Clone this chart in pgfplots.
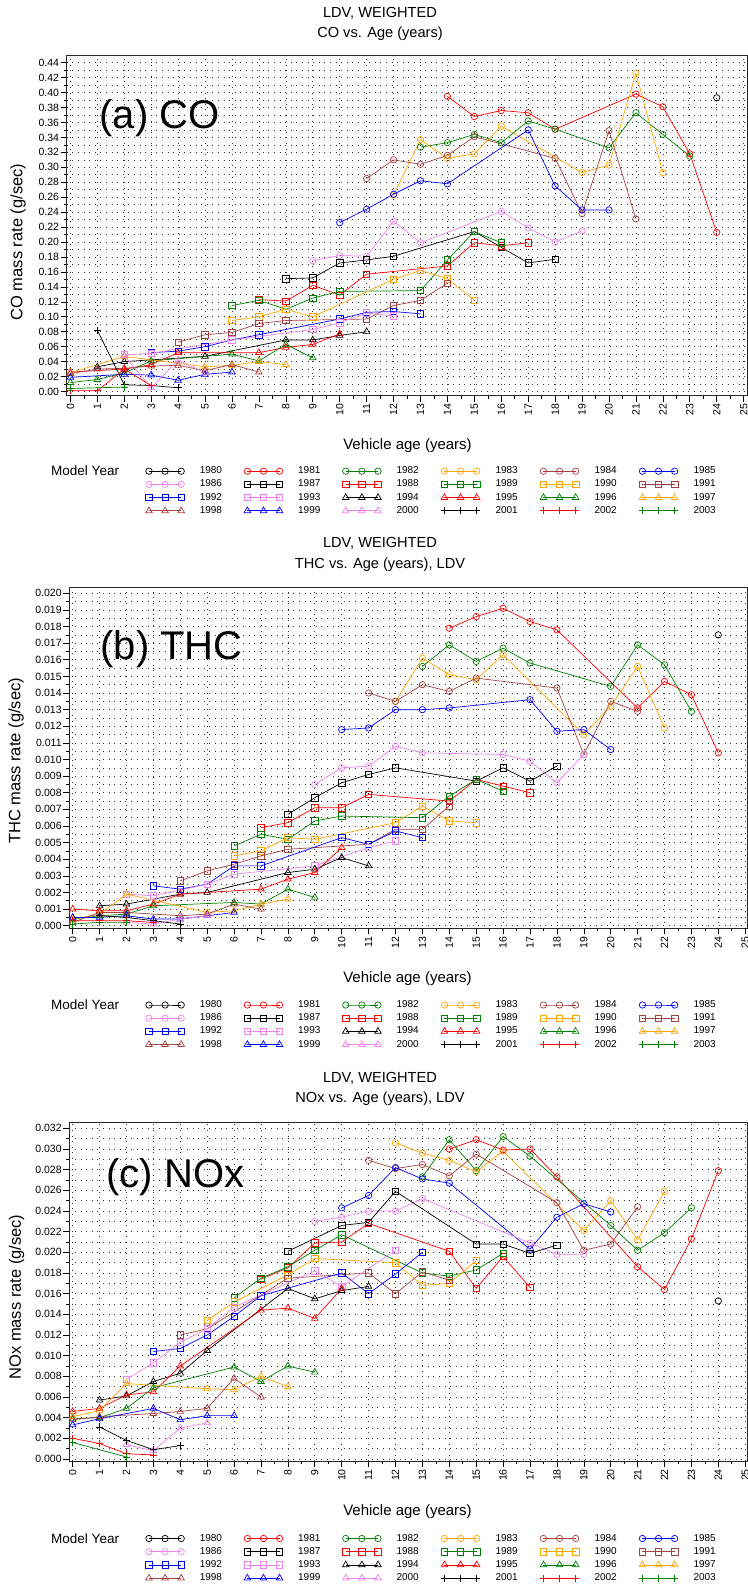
\documentclass[border=0pt]{standalone}
\usepackage{fontspec}
\setmainfont{Liberation Sans}
\usepackage{pgfplots}
\pgfplotsset{compat=1.18}

\definecolor{cred}{RGB}{255,0,0}
\definecolor{cgreen}{RGB}{0,128,0}
\definecolor{corange}{RGB}{255,165,0}
\definecolor{cbrown}{RGB}{165,65,65}
\definecolor{cblue}{RGB}{0,0,255}
\definecolor{cviolet}{RGB}{238,130,238}
\newcommand\fs[1]{\fontsize{#1bp}{#1bp}\selectfont}

\pgfplotsset{
  s1980/.style={black,mark=o},
  s1981/.style={cred,mark=o},
  s1982/.style={cgreen,mark=o},
  s1983/.style={corange,mark=o},
  s1984/.style={cbrown,mark=o},
  s1985/.style={cblue,mark=o},
  s1986/.style={cviolet,mark=o},
  s1987/.style={black,mark=square},
  s1988/.style={cred,mark=square},
  s1989/.style={cgreen,mark=square},
  s1990/.style={corange,mark=square},
  s1991/.style={cbrown,mark=square},
  s1992/.style={cblue,mark=square},
  s1993/.style={cviolet,mark=square},
  s1994/.style={black,mark=triangle,mark size=3.8bp},
  s1995/.style={cred,mark=triangle,mark size=3.8bp},
  s1996/.style={cgreen,mark=triangle,mark size=3.8bp},
  s1997/.style={corange,mark=triangle,mark size=3.8bp},
  s1998/.style={cbrown,mark=triangle,mark size=3.8bp},
  s1999/.style={cblue,mark=triangle,mark size=3.8bp},
  s2000/.style={cviolet,mark=triangle,mark size=3.8bp},
  s2001/.style={black,mark=+,mark size=3.6bp},
  s2002/.style={cred,mark=+,mark size=3.6bp},
  s2003/.style={cgreen,mark=+,mark size=3.6bp},
  sasaxis/.style={
    scale only axis,
    axis line style={line width=0.9bp, black!85},
    tick pos=left,
    tick align=outside,
    major tick length=6bp,
    minor tick length=3bp,
    tick style={black, line width=0.6bp},
    xtick={0,...,25},
    minor x tick num=1,
    minor y tick num=1,
    xmajorgrids, ymajorgrids, yminorgrids,
    major grid style={black!80, line width=0.6bp, dash pattern=on 0.6bp off 5bp},
    minor grid style={black!80, line width=0.6bp, dash pattern=on 0.6bp off 5bp},
    /pgf/number format/assume math mode=true,
    tick label style={font=\fs{10.5}},
    xticklabel style={rotate=90, anchor=east, inner sep=2bp},
    yticklabel style={inner xsep=1.5bp},
    scaled y ticks=false,
    legend columns=6,
    legend image code/.code={\draw plot coordinates {(0bp,0bp) (16.1bp,0bp) (32.2bp,0bp)};},
    legend style={draw=none, fill=none, inner sep=0pt, anchor=north west,
      column sep=15.3bp, row sep=4.2bp,
      nodes={inner sep=0pt, text height=7bp, text depth=2bp, text width=29bp,
             anchor=west, font=\fs{10}}},
    every axis plot/.append style={line width=0.7bp, mark size=3.2bp},
  },
}

\begin{document}
\begin{tikzpicture}
\useasboundingbox (0,0) rectangle (748bp,-1587bp);

% ---------------- (a) CO ----------------
\node[font=\fs{14.6}, anchor=base] at (380bp,-17.3bp) {LDV, WEIGHTED};
\node[font=\fs{14.6}, anchor=base] at (380bp,-37.3bp) {CO vs. Age (years)};
\begin{axis}[sasaxis,
  at={(66.7bp,-395.5bp)}, anchor=south west,
  width=680.6bp, height=339.8bp,
  xmin=-0.137, xmax=25.136, ymin=-0.00535, ymax=0.44937,
  ytick distance=0.02,
  yticklabel style={/pgf/number format/fixed, /pgf/number format/fixed zerofill, /pgf/number format/precision=2},
  legend style={at={(0.1158,-0.2089)}},
]
\addplot[s1980] coordinates {(24,0.393)};
\addplot[s1981] coordinates {(14,0.395)(15,0.368)(16,0.376)(17,0.373)(18,0.351)(21,0.398)(22,0.381)(23,0.318)(24,0.213)};
\addplot[s1982] coordinates {(13,0.327)(14,0.333)(15,0.344)(16,0.333)(17,0.362)(18,0.351)(20,0.326)(21,0.373)(22,0.344)(23,0.315)};
\addplot[s1983] coordinates {(12,0.263)(13,0.337)(14,0.312)(15,0.318)(16,0.355)(19,0.293)(20,0.303)(21,0.426)(22,0.293)};
\addplot[s1984] coordinates {(11,0.285)(12,0.310)(13,0.304)(14,0.316)(15,0.341)(18,0.312)(19,0.238)(20,0.349)(21,0.231)};
\addplot[s1985] coordinates {(10,0.226)(11,0.244)(12,0.264)(13,0.282)(14,0.278)(17,0.350)(18,0.275)(19,0.243)(20,0.243)};
\addplot[s1986] coordinates {(9,0.175)(10,0.182)(11,0.181)(12,0.228)(13,0.199)(16,0.241)(17,0.219)(18,0.200)(19,0.215)};
\addplot[s1987] coordinates {(8,0.151)(9,0.152)(10,0.172)(11,0.176)(12,0.181)(15,0.214)(16,0.193)(17,0.172)(18,0.177)};
\addplot[s1988] coordinates {(7,0.123)(8,0.121)(9,0.142)(10,0.129)(11,0.157)(14,0.168)(15,0.199)(16,0.195)(17,0.199)};
\addplot[s1989] coordinates {(6,0.115)(7,0.122)(8,0.110)(9,0.125)(10,0.134)(13,0.135)(14,0.176)(15,0.214)(16,0.199)};
\addplot[s1990] coordinates {(6,0.095)(7,0.100)(8,0.110)(9,0.100)(12,0.150)(13,0.162)(14,0.151)(15,0.122)};
\addplot[s1991] coordinates {(4,0.066)(5,0.076)(6,0.079)(7,0.091)(8,0.095)(11,0.097)(12,0.115)(13,0.122)(14,0.145)};
\addplot[s1992] coordinates {(3,0.052)(4,0.054)(5,0.060)(6,0.069)(7,0.076)(10,0.097)(11,0.106)(12,0.107)(13,0.104)};
\addplot[s1993] coordinates {(2,0.049)(3,0.051)(6,0.069)(9,0.083)(10,0.092)(11,0.105)(12,0.101)};
\addplot[s1994] coordinates {(1,0.033)(2,0.040)(5,0.047)(8,0.069)(9,0.069)(10,0.075)(11,0.080)};
\addplot[s1995] coordinates {(0,0.026)(2,0.030)(3,0.036)(4,0.052)(7,0.052)(8,0.059)(9,0.063)(10,0.077)};
\addplot[s1996] coordinates {(0,0.012)(1,0.016)(2,0.025)(3,0.041)(6,0.050)(7,0.041)(8,0.063)(9,0.045)};
\addplot[s1997] coordinates {(0,0.025)(2,0.047)(5,0.033)(6,0.035)(7,0.040)(8,0.036)};
\addplot[s1998] coordinates {(0,0.024)(1,0.030)(2,0.031)(3,0.034)(4,0.035)(5,0.028)(6,0.036)(7,0.026)};
\addplot[s1999] coordinates {(0,0.019)(2,0.023)(3,0.022)(4,0.015)(5,0.023)(6,0.026)};
\addplot[s2000] coordinates {(2,0.048)(3,0.005)(4,0.042)(5,0.025)};
\addplot[s2001] coordinates {(1,0.082)(2,0.009)(3,0.008)(4,0.005)};
\addplot[s2002] coordinates {(0,0.001)(1,0.001)(2,0.030)(3,0.008)};
\addplot[s2003] coordinates {(0,0.004)(2,0.006)};
\legend{1980,1981,1982,1983,1984,1985,1986,1987,1988,1989,1990,1991,1992,1993,1994,1995,1996,1997,1998,1999,2000,2001,2002,2003}
\end{axis}
\node[font=\fs{40}, anchor=base west] at (96bp,-128.5bp) {(a) CO};
\node[font=\fs{16.5}, rotate=90] at (18bp,-242bp) {CO mass rate (g/sec)};
\node[font=\fs{15}, anchor=base] at (407.5bp,-449.4bp) {Vehicle age (years)};
\node[font=\fs{13.5}, anchor=base west] at (47.7bp,-475.9bp) {Model Year};

% ---------------- (b) THC ----------------
\node[font=\fs{14.6}, anchor=base] at (380bp,-547.3bp) {LDV, WEIGHTED};
\node[font=\fs{14.6}, anchor=base] at (380bp,-568.6bp) {THC vs. Age (years), LDV};
\begin{axis}[sasaxis,
  at={(69.3bp,-928.3bp)}, anchor=south west,
  width=678bp, height=341bp,
  xmin=-0.126, xmax=25.078, ymin=-0.000156, ymax=0.020361,
  ytick distance=0.001,
  yticklabel style={/pgf/number format/fixed, /pgf/number format/fixed zerofill, /pgf/number format/precision=3},
  legend style={at={(0.1124,-0.2111)}},
]
\addplot[s1980] coordinates {(24,0.0175)};
\addplot[s1981] coordinates {(14,0.0179)(15,0.0186)(16,0.0191)(17,0.0183)(18,0.0178)(21,0.0131)(22,0.0147)(23,0.0139)(24,0.0104)};
\addplot[s1982] coordinates {(13,0.0156)(14,0.0169)(15,0.0159)(16,0.0167)(17,0.0158)(20,0.0144)(21,0.0169)(22,0.0157)(23,0.0129)};
\addplot[s1983] coordinates {(12,0.0135)(13,0.0161)(14,0.0151)(15,0.0148)(16,0.0163)(19,0.0115)(20,0.0132)(21,0.0156)(22,0.0119)};
\addplot[s1984] coordinates {(11,0.0140)(12,0.0135)(13,0.0145)(14,0.0141)(15,0.0149)(18,0.0143)(19,0.0103)(20,0.0135)(21,0.0129)};
\addplot[s1985] coordinates {(10,0.0118)(11,0.0119)(12,0.0130)(13,0.0130)(14,0.0131)(17,0.0136)(18,0.0117)(19,0.0118)(20,0.0106)};
\addplot[s1986] coordinates {(9,0.0085)(10,0.0095)(11,0.0096)(12,0.0108)(13,0.0104)(16,0.0103)(17,0.0099)(18,0.0086)(19,0.0103)};
\addplot[s1987] coordinates {(8,0.0067)(9,0.0077)(10,0.0086)(11,0.0091)(12,0.0095)(15,0.0087)(16,0.0095)(17,0.0087)(18,0.0096)};
\addplot[s1988] coordinates {(7,0.0059)(8,0.0062)(9,0.0071)(10,0.0071)(11,0.0079)(14,0.0075)(15,0.0088)(16,0.0084)(17,0.0080)};
\addplot[s1989] coordinates {(6,0.0048)(7,0.0055)(8,0.0052)(9,0.0063)(10,0.0066)(13,0.0065)(14,0.0078)(15,0.0088)(16,0.0081)};
\addplot[s1990] coordinates {(6,0.0042)(7,0.0045)(8,0.0053)(9,0.0052)(12,0.0062)(13,0.0072)(14,0.0063)(15,0.0062)};
\addplot[s1991] coordinates {(4,0.0027)(5,0.0033)(6,0.0037)(7,0.0042)(8,0.0046)(11,0.0049)(12,0.0058)(13,0.0058)(14,0.0072)};
\addplot[s1992] coordinates {(3,0.0024)(4,0.0022)(5,0.0025)(6,0.0036)(7,0.0036)(10,0.0053)(11,0.0049)(12,0.0057)(13,0.0053)};
\addplot[s1993] coordinates {(2,0.0019)(3,0.0018)(5,0.0025)(6,0.0031)(9,0.0036)(11,0.0047)(12,0.0051)};
\addplot[s1994] coordinates {(1,0.0012)(2,0.0013)(4,0.0019)(5,0.0020)(8,0.0032)(9,0.0034)(10,0.0041)(11,0.0036)};
\addplot[s1995] coordinates {(0,0.0010)(1,0.0009)(2,0.0009)(3,0.0013)(4,0.0019)(7,0.0022)(8,0.0028)(9,0.0032)(10,0.0047)};
\addplot[s1996] coordinates {(0,0.0004)(1,0.0006)(2,0.0007)(3,0.0012)(6,0.0014)(7,0.0013)(8,0.0022)(9,0.0017)};
\addplot[s1997] coordinates {(0,0.0004)(1,0.0007)(2,0.0019)(5,0.0008)(6,0.0009)(7,0.0013)(8,0.0016)};
\addplot[s1998] coordinates {(0,0.0002)(1,0.0008)(2,0.0008)(4,0.0006)(5,0.0007)(6,0.0013)(7,0.0010)};
\addplot[s1999] coordinates {(0,0.0005)(1,0.0005)(2,0.0006)(3,0.0004)(4,0.0004)(5,0.0006)(6,0.0008)};
\addplot[s2000] coordinates {(2,0.0002)(3,0.0001)(4,0.0004)(5,0.0006)};
\addplot[s2001] coordinates {(1,0.0006)(2,0.0005)(3,0.0003)(4,0.0001)};
\addplot[s2002] coordinates {(0,0.0003)(1,0.0003)(2,0.0003)(3,0.0002)};
\addplot[s2003] coordinates {(0,0.0001)(1,0.0002)(2,0.0002)};
\legend{1980,1981,1982,1983,1984,1985,1986,1987,1988,1989,1990,1991,1992,1993,1994,1995,1996,1997,1998,1999,2000,2001,2002,2003}
\end{axis}
\node[font=\fs{40}, anchor=base west] at (97bp,-659.5bp) {(b) THC};
\node[font=\fs{16.5}, rotate=90] at (16bp,-761bp) {THC mass rate (g/sec)};
\node[font=\fs{15}, anchor=base] at (407.5bp,-982.4bp) {Vehicle age (years)};
\node[font=\fs{13.5}, anchor=base west] at (47.7bp,-1009.7bp) {Model Year};

% ---------------- (c) NOx ----------------
\node[font=\fs{14.6}, anchor=base] at (380bp,-1082.3bp) {LDV, WEIGHTED};
\node[font=\fs{14.6}, anchor=base] at (380bp,-1102.3bp) {NOx vs. Age (years), LDV};
\begin{axis}[sasaxis,
  at={(69.3bp,-1461bp)}, anchor=south west,
  width=678bp, height=338.7bp,
  xmin=-0.126, xmax=25.078, ymin=-0.000194, ymax=0.032581,
  ytick distance=0.002,
  yticklabel style={/pgf/number format/fixed, /pgf/number format/fixed zerofill, /pgf/number format/precision=3},
  legend style={at={(0.1124,-0.2149)}},
]
\addplot[s1980] coordinates {(24,0.0153)};
\addplot[s1981] coordinates {(14,0.0300)(15,0.0309)(16,0.0299)(17,0.0300)(18,0.0273)(21,0.0186)(22,0.0164)(23,0.0213)(24,0.0279)};
\addplot[s1982] coordinates {(13,0.0273)(14,0.0309)(15,0.0279)(16,0.0312)(17,0.0293)(20,0.0226)(21,0.0202)(22,0.0219)(23,0.0243)};
\addplot[s1983] coordinates {(12,0.0306)(13,0.0296)(14,0.0289)(15,0.0278)(16,0.0298)(19,0.0221)(20,0.0250)(21,0.0212)(22,0.0259)};
\addplot[s1984] coordinates {(11,0.0289)(12,0.0281)(13,0.0285)(14,0.0274)(15,0.0295)(18,0.0248)(19,0.0202)(20,0.0208)(21,0.0244)};
\addplot[s1985] coordinates {(10,0.0243)(11,0.0255)(12,0.0282)(13,0.0271)(14,0.0267)(17,0.0203)(18,0.0234)(19,0.0247)(20,0.0239)};
\addplot[s1986] coordinates {(9,0.0230)(10,0.0234)(11,0.0240)(12,0.0240)(13,0.0252)(17,0.0209)(18,0.0198)(19,0.0198)};
\addplot[s1987] coordinates {(8,0.0201)(10,0.0226)(11,0.0229)(12,0.0259)(15,0.0208)(16,0.0208)(17,0.0199)(18,0.0207)};
\addplot[s1988] coordinates {(7,0.0174)(8,0.0185)(9,0.0209)(10,0.0210)(11,0.0228)(14,0.0201)(15,0.0165)(16,0.0196)(17,0.0166)};
\addplot[s1989] coordinates {(6,0.0156)(7,0.0175)(8,0.0186)(9,0.0202)(10,0.0217)(13,0.0180)(14,0.0177)(15,0.0183)(16,0.0199)};
\addplot[s1990] coordinates {(5,0.0134)(6,0.0152)(8,0.0178)(9,0.0194)(12,0.0190)(13,0.0168)(14,0.0170)(15,0.0192)};
\addplot[s1991] coordinates {(4,0.0120)(5,0.0126)(8,0.0175)(11,0.0180)(12,0.0160)(13,0.0181)(14,0.0173)};
\addplot[s1992] coordinates {(3,0.0104)(4,0.0107)(5,0.0120)(6,0.0138)(7,0.0158)(10,0.0180)(11,0.0160)(12,0.0179)(13,0.0200)};
\addplot[s1993] coordinates {(2,0.0077)(3,0.0093)(4,0.0113)(5,0.0126)(6,0.0147)(9,0.0182)(10,0.0167)(12,0.0202)};
\addplot[s1994] coordinates {(1,0.0057)(2,0.0061)(3,0.0075)(4,0.0083)(5,0.0105)(8,0.0165)(9,0.0155)(10,0.0163)(11,0.0167)};
\addplot[s1995] coordinates {(0,0.0046)(1,0.0049)(2,0.0062)(3,0.0065)(4,0.0090)(7,0.0144)(8,0.0146)(9,0.0136)(10,0.0165)};
\addplot[s1996] coordinates {(0,0.0039)(1,0.0040)(2,0.0049)(3,0.0069)(6,0.0089)(7,0.0075)(8,0.0090)(9,0.0084)};
\addplot[s1997] coordinates {(0,0.0041)(1,0.0047)(2,0.0073)(5,0.0068)(6,0.0067)(7,0.0080)(8,0.0070)};
\addplot[s1998] coordinates {(0,0.0038)(1,0.0041)(3,0.0044)(4,0.0046)(5,0.0049)(6,0.0078)(7,0.0060)};
\addplot[s1999] coordinates {(0,0.0033)(1,0.0039)(3,0.0049)(4,0.0038)(5,0.0042)(6,0.0042)};
\addplot[s2000] coordinates {(2,0.0014)(3,0.0008)(4,0.0030)(5,0.0035)};
\addplot[s2001] coordinates {(1,0.0031)(2,0.0018)(3,0.0009)(4,0.0013)};
\addplot[s2002] coordinates {(0,0.0020)(1,0.0015)(2,0.0005)(3,0.0004)};
\addplot[s2003] coordinates {(0,0.0016)(2,0.0002)};
\legend{1980,1981,1982,1983,1984,1985,1986,1987,1988,1989,1990,1991,1992,1993,1994,1995,1996,1997,1998,1999,2000,2001,2002,2003}
\end{axis}
\node[font=\fs{40}, anchor=base west] at (103bp,-1187.5bp) {(c) NOx};
\node[font=\fs{16.5}, rotate=90] at (16.7bp,-1297bp) {NOx mass rate (g/sec)};
\node[font=\fs{15}, anchor=base] at (407.5bp,-1515.4bp) {Vehicle age (years)};
\node[font=\fs{13.5}, anchor=base west] at (47.7bp,-1543.2bp) {Model Year};
\end{tikzpicture}
\end{document}
